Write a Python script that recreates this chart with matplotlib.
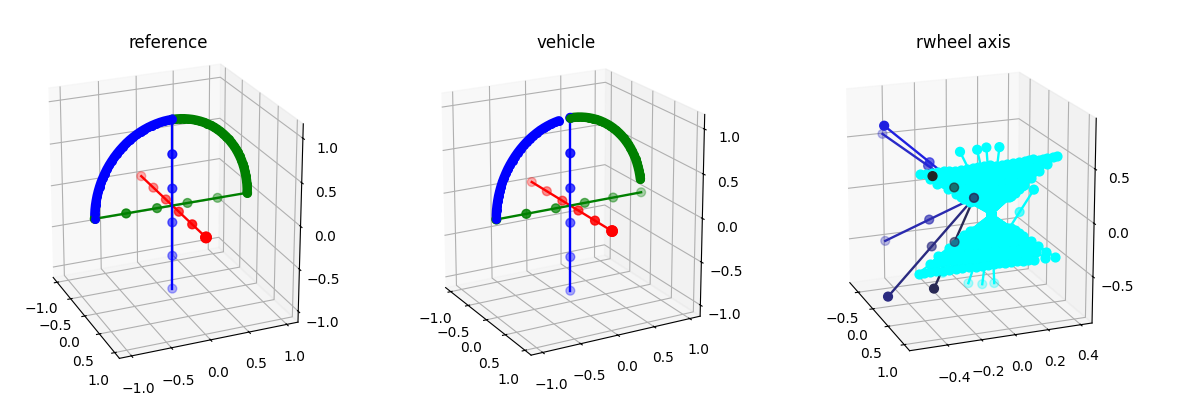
import matplotlib
matplotlib.use("Agg")
import matplotlib.pyplot as plt
import numpy as np

W, H = 1183, 413
titles = ["reference", "vehicle", "rwheel axis"]

seg_vals = [-1.0, -0.6, -0.2, 0.2, 0.6, 1.0]

arc_reach = [1.0, .999, .995, .988, .978, .966, .951, .934, .914, .891, .866, .839, .809, .777, .743, .707,
             .669, .629, .588, .545, .5, .454, .407, .358, .309, .259, .208, .156, .105, .052, 0.0]
arc_height = [0.0, .052, .105, .156, .208, .259, .309, .358, .407, .454, .5, .545, .588, .629, .669, .707,
              .743, .777, .809, .839, .866, .891, .914, .934, .951, .966, .978, .988, .995, .999, 1.0]
blue_count = [31, 28]
green_start = [0, 3]

dark_x = [-0.2, -0.7, -0.6, 0.4, 0.9, 1.1]
dark_y = [-0.50, -0.42, -0.43, -0.60, -0.425, -0.47]
dark_z = [0.73, 0.52, -0.50, -0.695, -0.497, 0.59]
dark_colors = ["#2020e0", "#2a2ac8", "#2a2ab0", "#2a2a80", "#2a2a55", "#222222"]
up_x = [-.28, -.24, -.22, -.19, -.16, -.13, -.10, -.07, -.05, -.02, .01, .03, .06, .09, .12, .14, .17, .20, .22,
        .25, .27, .30, .32, .35, .36, .38, -.2, -.15, -.1, 0.0, .1]
up_y = [-.27, -.24, -.21, -.18, -.15, -.12, -.09, -.06, -.03, 0.0, .03, .06, .09, .12, .15, .18, .21, .24, .27,
        .29, .31, .34, .36, .38, .41, .43, -.10, -.05, 0.0, .07, .15]
up_z = [.21, .22, .23, .24, .25, .25, .26, .27, .28, .29, .30, .31, .32, .32, .33, .34, .35, .36, .37, .38, .39, .39,
        .40, .41, .42, .43, .10, .10, .10, .08, .10]
top_stem_x = [-.15, -.05, .05, .12]
top_stem_y = [-.05, .035, .07, .135]
top_stem_z = [.42, .45, .49, .50]
lo_x = [-.20, -.17, -.14, -.12, -.09, -.06, -.03, -.01, .02, .05, .08, .11, .13, .16, .19, .22, .24, .27, .30,
        .33, .35, .38, .3, .35]
lo_y = [-.30, -.27, -.24, -.21, -.17, -.14, -.10, -.07, -.03, .01, .04, .07, .10, .13, .16, .19, .22, .25, .28,
        .31, .37, .43, .25, .30]
lo_z = [-.73, -.72, -.71, -.70, -.695, -.685, -.675, -.665, -.655, -.65, -.64, -.63, -.62, -.61, -.605, -.595, -.585,
        -.575, -.565, -.56, -.55, -.545, -.50, -.45]
bot_stem_x = [-.1, .0, .08, .15]
bot_stem_y = [-.17, -.03, .04, .10]
bot_stem_z = [-.72, -.82, -.82, -.80]
in1_x = [-.20, -.17, -.14, -.11, -.08, -.05, -.02, .01, .04, .07, .10, .13, .16, .19, .22, .25, .27, .295]
in1_y = [-.18, -.15, -.12, -.09, -.06, -.03, 0.0, .03, .06, .09, .12, .15, .18, .21, .24, .27, .31, .34]
in1_up_z = [.12, .13, .14, .15, .16, .17, .18, .19, .20, .21, .22, .23, .24, .24, .25, .26, .27, .286]
in1_lo_z = [-.585, -.577, -.569, -.56, -.552, -.544, -.536, -.528, -.52, -.511, -.503, -.495, -.487, -.478, -.47, -.462, -.454, -.445]
in2_x = [-.24, -.21, -.18, -.15, -.12, -.09, -.06, -.03, 0.0, .03, .06, .09, .12, .15, .18, .21, .24, .27, .30, .335]
in2_y = [-.22, -.19, -.16, -.13, -.10, -.07, -.04, -.01, .02, .05, .08, .11, .14, .17, .20, .23, .26, .29, .33, .38]
in2_up_z = [.164, .17, .18, .19, .20, .21, .22, .23, .24, .25, .26, .27, .28, .29, .30, .31, .32, .33, .34, .355]
in2_lo_z = [-.66, -.65, -.64, -.63, -.625, -.615, -.605, -.595, -.59, -.58, -.57, -.56, -.55, -.545, -.535, -.525, -.515, -.51, -.50, -.493]
in3_x = [-.16, -.13, -.10, -.07, -.04, -.01, .02, .05, .08, .11, .14, .17, .21, .25]
in3_y = [-.12, -.085, -.05, -.02, .015, .05, .085, .12, .155, .19, .225, .26, .28, .305]
in3_up_z = [.07, .08, .09, .10, .11, .12, .13, .14, .15, .16, .17, .18, .195, .206]
in3_lo_z = [-.50, -.492, -.484, -.477, -.469, -.461, -.453, -.446, -.438, -.43, -.422, -.415, -.407, -.399]
stem_x = [.3]
stem_y = [.31]
stem_z = [.11]

NAVY_CENTER = (-0.07, 0.02, -0.015)
CYAN_CENTER = (0.04, 0.105, -0.16)
STEM_START = (0.04, 0.195, -0.37)

fig = plt.figure(figsize=(W / 100, H / 100), dpi=100)


def make_ax(cx, cy, w, h, elev, azim, title, title_y=1.017):
    ax = fig.add_axes([(cx - w / 2) / W, 1 - (cy + h / 2) / H, w / W, h / H], projection="3d")
    ax.apply_aspect = lambda position=None: None
    ax.set_box_aspect((1, 1, 1), zoom=1.0)
    ax.view_init(elev=elev, azim=azim)
    ax.set_title(title, y=title_y)
    return ax


def frame_panel(ax, blue_n, green_s):
    vals = np.array(seg_vals)
    zero = np.zeros_like(vals)
    ax.plot(vals, zero, zero, color="red", lw=1.7)
    ax.scatter(vals, zero, zero, color="red", s=40)
    ax.scatter([1.0, 1.0], [0, 0], [0, 0], color="red", s=55)
    ax.plot(zero, vals, zero, color="green", lw=1.7)
    ax.scatter(zero, vals, zero, color="green", s=40)
    ax.plot(zero, zero, vals, color="blue", lw=1.7)
    ax.scatter(zero, zero, vals, color="blue", s=40)
    reach = np.array(arc_reach)
    height = np.array(arc_height)
    ax.plot(0 * reach[green_s:], reach[green_s:], height[green_s:], color="green", lw=6.8, solid_capstyle="round")
    ax.scatter(0 * reach[green_s:], reach[green_s:], height[green_s:], color="green", s=30, depthshade=False)
    ax.plot(0 * reach[:blue_n], -reach[:blue_n], height[:blue_n], color="blue", lw=6.8, solid_capstyle="round")
    ax.scatter(0 * reach[:blue_n], -reach[:blue_n], height[:blue_n], color="blue", s=30, depthshade=False)
    ax.set_xlim(-1.15, 1.15)
    ax.set_ylim(-1.15, 1.15)
    ax.set_zlim(-1.13, 1.16)
    ax.set_xticks([-1, -.5, 0, .5, 1])
    ax.set_yticks([-1, -.5, 0, .5, 1])
    ax.set_zticks([-1, -.5, 0, .5, 1])


AW, AH, CY = 320, 350, 209
ax1 = make_ax(168, CY, AW, AH, 21.5, -23, titles[0])
frame_panel(ax1, blue_count[0], green_start[0])
ax2 = make_ax(566, CY, AW, AH, 18, -29, titles[1])
frame_panel(ax2, blue_count[1], green_start[1])
ax3 = make_ax(963, CY, AW, AH, 17, -21, titles[2])


def vector(ax, center, x, y, z, color, shade=True):
    cx, cy, cz = center
    ax.plot([cx, x], [cy, y], [cz, z], color=color, lw=1.7)
    ax.scatter([cx, (cx + x) / 2, x], [cy, (cy + y) / 2, y], [cz, (cz + z) / 2, z], color=color, s=40,
               depthshade=shade)


for x, y, z, c in zip(dark_x, dark_y, dark_z, dark_colors):
    vector(ax3, NAVY_CENTER, x, y, z, c)
for xs, ys, zs in [(up_x, up_y, up_z), (lo_x, lo_y, lo_z), (in1_x, in1_y, in1_up_z), (in1_x, in1_y, in1_lo_z),
                   (in2_x, in2_y, in2_up_z), (in2_x, in2_y, in2_lo_z), (in3_x, in3_y, in3_up_z),
                   (in3_x, in3_y, in3_lo_z)]:
    for x, y, z in zip(xs, ys, zs):
        vector(ax3, CYAN_CENTER, x, y, z, "cyan", shade=False)
for xs, ys, zs in [(top_stem_x, top_stem_y, top_stem_z), (bot_stem_x, bot_stem_y, bot_stem_z)]:
    for x, y, z in zip(xs, ys, zs):
        vector(ax3, CYAN_CENTER, x, y, z, "cyan")
for x, y, z in zip(stem_x, stem_y, stem_z):
    vector(ax3, STEM_START, x, y, z, "cyan")
ax3.set_xlim(-0.8, 1.16)
ax3.set_ylim(-0.62, 0.47)
ax3.set_zlim(-0.94, 0.96)
ax3.set_xticks([-.5, 0, .5, 1])
ax3.set_yticks([-.4, -.2, 0, .2, .4])
ax3.set_zticks([-.5, 0, .5])

fig.savefig("out.png", dpi=100)
